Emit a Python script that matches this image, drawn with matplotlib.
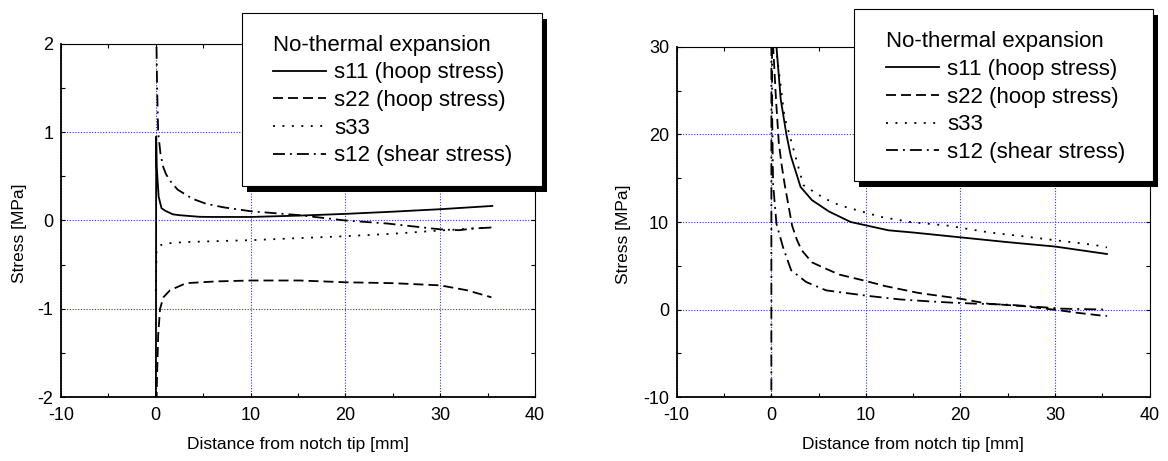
import matplotlib
matplotlib.use("Agg")
import matplotlib.pyplot as plt
from matplotlib.patches import Rectangle
from matplotlib.ticker import MultipleLocator

plt.rcParams['font.family'] = ['Liberation Sans', 'DejaVu Sans']
plt.rcParams['lines.scale_dashes'] = False
plt.rcParams['axes.unicode_minus'] = False

# ---------------- data ----------------
labels = ["s11 (hoop stress)", "s22 (hoop stress)", "s33", "s12 (shear stress)"]
legend_title = "No-thermal expansion"
xlabel = "Distance from notch tip [mm]"
ylabel = "Stress [MPa]"

# Left panel
L_s11_x = [0.0, 0.04, 0.1, 0.3, 0.6, 1.0, 1.8, 2.5, 4.6, 6.0, 10.0, 15.0, 20.0, 25.0, 30.0, 35.5]
L_s11_y = [-3.0, 0.95, 0.6, 0.27, 0.14, 0.11, 0.07, 0.06, 0.042, 0.04, 0.04, 0.055, 0.075, 0.10, 0.128, 0.165]

L_s22_x = [0.0, 0.1, 0.25, 0.45, 0.8, 1.5, 3.2, 6.4, 10.0, 15.2, 20.0, 25.0, 30.0, 32.8, 35.4]
L_s22_y = [-3.0, -1.9, -1.3, -1.0, -0.87, -0.79, -0.71, -0.69, -0.68, -0.68, -0.70, -0.71, -0.735, -0.79, -0.87]

L_s33_x = [0.0, 0.08, 0.5, 1.1, 3.0, 6.0, 10.0, 15.0, 20.0, 25.0, 30.0, 35.4]
L_s33_y = [-0.8, -0.33, -0.28, -0.26, -0.245, -0.235, -0.223, -0.20, -0.178, -0.15, -0.113, -0.078]

L_s12_x = [0.0, 0.07, 0.14, 0.25, 0.5, 0.8, 1.1, 1.65, 2.3, 3.2, 3.9, 5.3, 7.1, 10.0, 15.2, 20.0, 24.4, 27.0, 30.0, 32.0, 33.5, 35.4]
L_s12_y = [3.0, 2.0, 1.5, 1.0, 0.75, 0.6, 0.52, 0.43, 0.35, 0.29, 0.245, 0.19, 0.15, 0.105, 0.06, 0.0, -0.034, -0.065, -0.10, -0.11, -0.09, -0.08]

# Right panel
R_s11_x = [0.0, 0.3, 0.55, 1.0, 1.6, 2.05, 3.1, 4.3, 6.1, 8.4, 12.4, 15.0, 20.0, 25.0, 30.0, 35.5]
R_s11_y = [80.0, 40.0, 30.0, 24.0, 20.0, 17.6, 14.0, 12.5, 11.2, 10.0, 9.05, 8.8, 8.25, 7.7, 7.2, 6.35]

R_s22_x = [0.0, 0.2, 0.5, 0.8, 1.1, 1.4, 1.8, 2.2, 2.7, 3.2, 4.3, 5.5, 7.2, 10.0, 12.0, 15.6, 17.6, 20.0, 22.9, 26.9, 30.5, 32.3, 34.7, 35.5]
R_s22_y = [80.0, 30.0, 24.0, 19.0, 16.5, 14.4, 12.0, 9.6, 8.0, 6.8, 5.4, 4.8, 4.0, 3.27, 2.7, 1.9, 1.6, 1.25, 0.68, 0.38, -0.08, -0.35, -0.65, -0.72]

R_s33_x = [0.0, 0.3, 0.6, 1.4, 3.4, 5.6, 7.25, 9.9, 11.5, 14.7, 18.7, 23.1, 26.4, 29.8, 34.2, 35.5]
R_s33_y = [80.0, 38.0, 29.0, 22.0, 14.2, 12.7, 11.9, 11.1, 10.6, 10.0, 9.58, 8.8, 8.4, 7.95, 7.38, 7.1]

R_s12_x = [0.0, 0.02, 0.1, 0.19, 0.55, 1.25, 2.1, 3.7, 5.8, 7.9, 10.4, 13.6, 16.2, 19.1, 21.7, 25.0, 28.4, 30.8, 34.5, 35.5]
R_s12_y = [-60.0, 60.0, 22.0, 14.4, 9.8, 7.1, 4.5, 3.15, 2.2, 1.9, 1.55, 1.17, 0.98, 0.8, 0.68, 0.57, 0.3, 0.11, 0.03, 0.0]

# ---------------- styles ----------------
W, H = 1168, 461
styles = [
    dict(linestyle='-'),
    dict(linestyle=(0, (7.2, 3.6))),
    dict(linestyle=(0, (1.4, 5.4))),
    dict(linestyle=(0, (8.6, 3.6, 1.4, 3.6))),
]

fig = plt.figure(figsize=(W / 100, H / 100), dpi=100)


def px_axes(l, t, r, b):
    return [l / W, 1 - b / H, (r - l) / W, (b - t) / H]


def setup(ax, ylim, ymajor, yminor):
    ax.set_xlim(-10, 40)
    ax.set_ylim(*ylim)
    ax.xaxis.set_major_locator(MultipleLocator(10))
    ax.xaxis.set_minor_locator(MultipleLocator(5))
    ax.yaxis.set_major_locator(MultipleLocator(ymajor))
    ax.yaxis.set_minor_locator(MultipleLocator(yminor))
    ax.tick_params(which='both', direction='in', top=True, right=True,
                   length=2.9, width=0.8, labelsize=13, color='black')
    ax.tick_params(axis='x', which='major', pad=7)
    ax.tick_params(axis='y', which='major', pad=5.5)
    ax.grid(True, which='major', color='#3030ff', linestyle=(0, (0.8, 1.2)), linewidth=0.8)
    for s in ['left', 'bottom']:
        ax.spines[s].set_linewidth(1.3)
    for s in ['top', 'right']:
        ax.spines[s].set_linewidth(0.8)
    ax.set_xlabel(xlabel, fontsize=12.5)
    ax.set_ylabel(ylabel, fontsize=12.5)


def add_legend(handles, box, content_left, content_top):
    l, t, r, b = box
    shadow = Rectangle(((l + 5) / W, 1 - (b + 6) / H), (r - l) / W, (b - t) / H,
                       transform=fig.transFigure, facecolor='black', edgecolor='none', zorder=3)
    frame = Rectangle((l / W, 1 - b / H), (r - l) / W, (b - t) / H,
                      transform=fig.transFigure, facecolor='white', edgecolor='black',
                      linewidth=0.8, zorder=4)
    fig.add_artist(shadow)
    fig.add_artist(frame)
    fig.legend(handles=handles, labels=labels, title=legend_title, alignment='left',
               loc='upper left', bbox_to_anchor=(content_left / W, 1 - content_top / H),
               bbox_transform=fig.transFigure, frameon=False, borderpad=0, borderaxespad=0,
               fontsize=16, title_fontsize=16, handlelength=2.4, handletextpad=0.36,
               labelspacing=0.3)


# Left panel
ax1 = fig.add_axes(px_axes(61, 44, 535, 397))
setup(ax1, (-2, 2), 1, 0.5)
h1 = []
for (x, y), st in zip([(L_s11_x, L_s11_y), (L_s22_x, L_s22_y), (L_s33_x, L_s33_y), (L_s12_x, L_s12_y)], styles):
    ln, = ax1.plot(x, y, color='black', linewidth=1.3, **st)
    h1.append(ln)
ax1.xaxis.set_label_coords(0.5, -0.113)
ax1.yaxis.set_label_coords(-0.072, 0.465)
add_legend(h1, (242, 13.3, 541.7, 186), 272.7, 34.7)

# Right panel
ax2 = fig.add_axes(px_axes(676.7, 46.7, 1149.5, 397.3))
setup(ax2, (-10, 30), 10, 5)
h2 = []
for (x, y), st in zip([(R_s11_x, R_s11_y), (R_s22_x, R_s22_y), (R_s33_x, R_s33_y), (R_s12_x, R_s12_y)], styles):
    ln, = ax2.plot(x, y, color='black', linewidth=1.3, **st)
    h2.append(ln)
ax2.xaxis.set_label_coords(0.5, -0.113)
ax2.yaxis.set_label_coords(-0.097, 0.465)
add_legend(h2, (854.3, 9, 1152.7, 181), 886, 31.4)

fig.savefig("out.png", dpi=100)
